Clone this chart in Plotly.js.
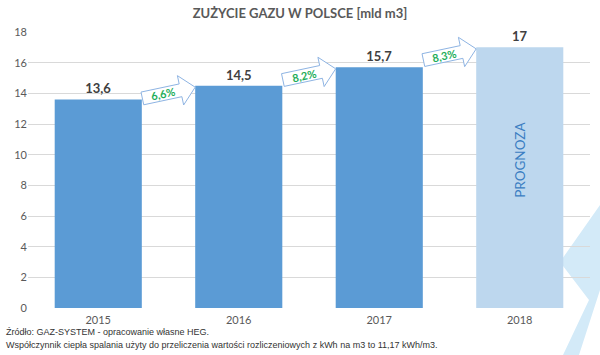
<!DOCTYPE html>
<html><head><meta charset="utf-8">
<script src="https://cdn.plot.ly/plotly-3.0.1.min.js"></script>
<style>html,body{margin:0;padding:0;background:#fff}#c{width:600px;height:355px}</style>
</head><body><div id="c"></div>
<script>
const years = ['2015','2016','2017','2018'];
const values = [13.6, 14.5, 15.7, 17];
const growthLabels = ['6,6%','8,2%','8,3%'];
const forecastLabel = 'PROGNOZA';
const title = 'ZUŻYCIE GAZU W POLSCE [mld m3]';
const sourceLines = ['Źródło: GAZ-SYSTEM - opracowanie własne HEG.',
  'Współczynnik ciepła spalania użyty do przeliczenia wartości rozliczeniowych z kWh na m3 to 11,17 kWh/m3.'];

const W=600,H=355, M={l:28,r:10,t:32,b:47};
const yMax=18, barW=0.62;
const pw=W-M.l-M.r, ph=H-M.t-M.b;
const pxX=pw/4, pxY=ph/yMax;
const xs = years.map((_,i)=>i);
const colors = values.map((_,i)=> i===values.length-1 ? '#BDD7EE' : '#5B9BD5');
const texts = values.map(v=>String(v).replace('.',','));

const shapes=[], annotations=[];
const ang = -12*Math.PI/180;
for(let i=0;i<growthLabels.length;i++){
  const tipX=(i+1-barW/2)*pxX, tipY=-(values[i+1]-0.1)*pxY;
  const L=54, bodyH=13, headH=30, headL=15;
  const loc=[[-L,-bodyH/2],[-headL,-bodyH/2],[-headL,-headH/2],[0,0],[-headL,headH/2],[-headL,bodyH/2],[-L,bodyH/2]];
  const c=Math.cos(ang), s=Math.sin(ang);
  const pts=loc.map(([u,v])=>[tipX+u*c-v*s, tipY+u*s+v*c]);
  const d=pts.map((p,k)=>(k?'L':'M')+(p[0]/pxX).toFixed(4)+','+(-p[1]/pxY).toFixed(4)).join(' ')+' Z';
  shapes.push({type:'path',xref:'x',yref:'y',path:d,fillcolor:'#ffffff',line:{color:'#8EB4E3',width:1},layer:'above'});
  const mu=-(L+headL)/2+2, mx=tipX+mu*c, my=tipY+mu*s;
  annotations.push({x:mx/pxX,y:-my/pxY,xref:'x',yref:'y',text:'<b>'+growthLabels[i]+'</b>',showarrow:false,
    textangle:-12,font:{family:'Lato',size:11,color:'#1FAE5B'}});
}
annotations.push({x:3,y:values[3]*0.56,xref:'x',yref:'y',text:forecastLabel,showarrow:false,textangle:-90,
  yshift:2,font:{family:'Lato',size:13.5,color:'#3A7DC2'}});
sourceLines.forEach((t,k)=>annotations.push({x:0,y:0,xref:'paper',yref:'paper',xanchor:'left',yanchor:'top',
  xshift:4-M.l,yshift:-17-k*13,text:t,showarrow:false,align:'left',font:{family:'Liberation Sans',size:9,color:'#333'}}));

const toP=(x,y)=>((x-M.l)/pw).toFixed(4)+','+((H-M.b-y)/ph).toFixed(4);
const sw=[[560,262],[600,205],[600,290],[579,355],[563,355],[589,300]];
shapes.push({type:'path',xref:'paper',yref:'paper',layer:'below',line:{width:0},fillcolor:'#D3EAF8',
  path:sw.map((p,k)=>(k?'L':'M')+toP(p[0],p[1])).join(' ')+' Z'});

Plotly.newPlot('c',[{type:'bar',x:xs,y:values,width:barW,marker:{color:colors},text:texts,textposition:'outside',
  cliponaxis:false,textfont:{family:'Lato',size:13,color:'#404040',weight:'bold'},hoverinfo:'skip'}],
{width:W,height:H,margin:M,paper_bgcolor:'#fff',plot_bgcolor:'rgba(0,0,0,0)',showlegend:false,
 title:{text:'<b>'+title+'</b>',x:0.5,xanchor:'center',y:1-13/H,yanchor:'middle',font:{family:'Lato',size:13,color:'#595959'}},
 xaxis:{range:[-0.5,3.5],tickvals:xs,ticktext:years,showgrid:false,zeroline:false,showline:false,ticks:'',
   ticklabelstandoff:4,tickfont:{family:'Lato',size:11,color:'#595959'},fixedrange:true},
 yaxis:{range:[0,yMax],dtick:2,gridcolor:'#D9D9D9',zeroline:false,showline:false,ticks:'',
   tickfont:{family:'Lato',size:11,color:'#595959'},fixedrange:true},
 shapes:shapes,annotations:annotations},{staticPlot:true});
</script></body></html>
